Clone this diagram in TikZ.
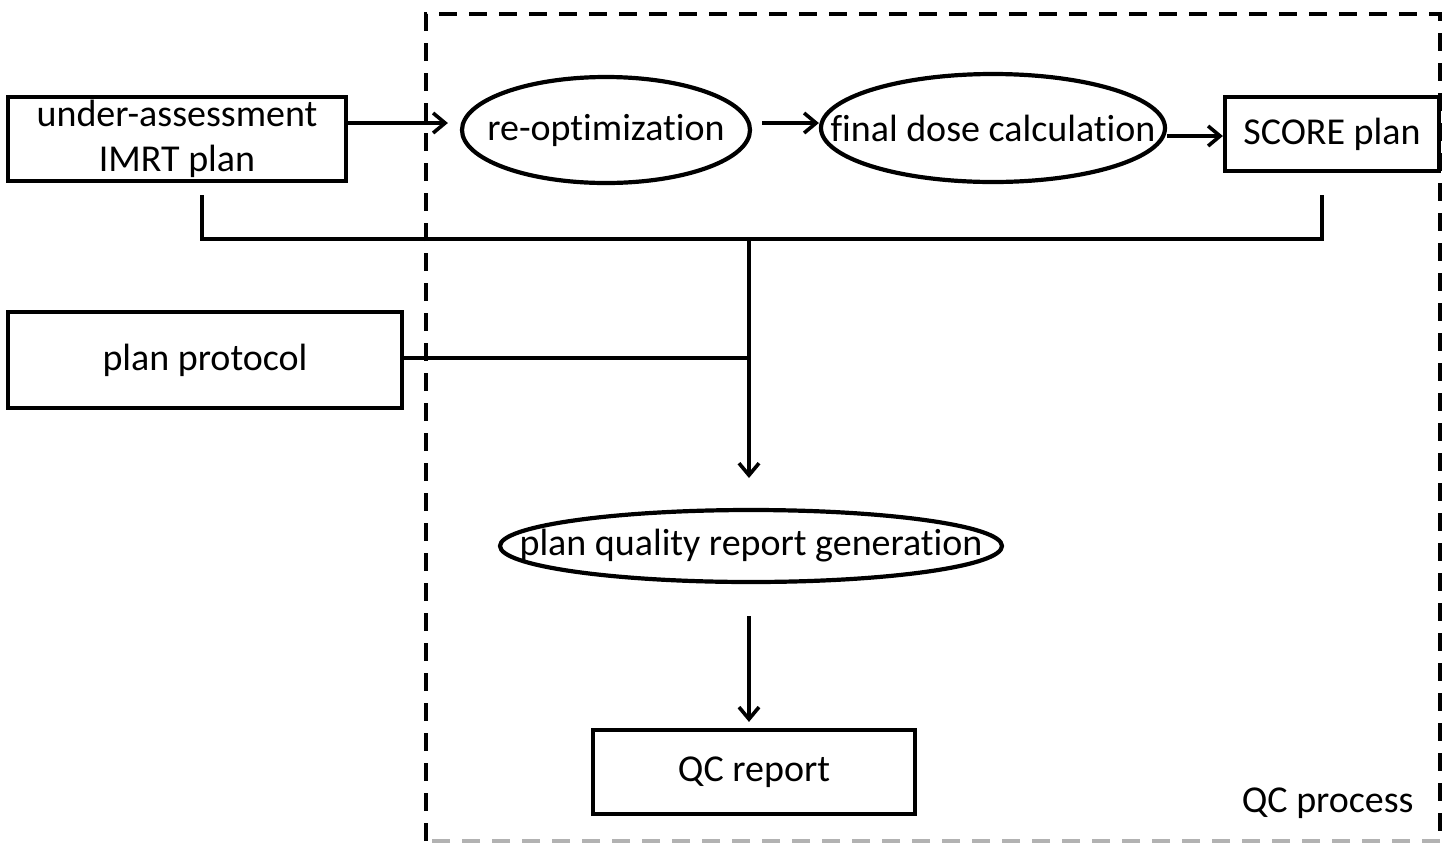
\documentclass[tikz,border=0pt]{standalone}
\usepackage{fontspec}
\setmainfont[Ligatures=NoCommon]{Carlito}
\usetikzlibrary{arrows.meta,shapes.geometric,calc}
\begin{document}
\begin{tikzpicture}[x=0.5pt,y=-0.5pt,
  every node/.style={font=\fontsize{19}{22.5}\selectfont},
  line/.style={line width=2.1pt},
  arr/.style={line width=2.1pt,-{Straight Barb[length=6pt,width=10pt,line width=1.8pt]}},
  boxnode/.style={draw,line width=2.1pt,rectangle,inner sep=0pt,align=center},
  ellnode/.style={draw,line width=2.1pt,ellipse,inner sep=0pt},
  qcframe/.style={line width=2.1pt,dash pattern=on 9pt off 6pt}]
\useasboundingbox (0,0) rectangle (1448,842);
% QC frame
\draw[qcframe,gray!60] (1440,841) -- (426,841);
\draw[qcframe] (426,841) -- (426,14) -- (1440,14) -- (1440,841);
% nodes
\node[boxnode,minimum width=169pt,minimum height=42pt] (under) at (177,139) {under-assessment\\IMRT plan};
\node[ellnode,minimum width=144pt,minimum height=53pt,label={center:re-optimization}] (reopt) at (606,130) {};
\node[ellnode,minimum width=172pt,minimum height=54pt,label={center:final dose calculation}] (final) at (993,128) {};
\node[boxnode,fill=white,minimum width=107pt,minimum height=37pt] (score) at (1332,134) {SCORE plan};
\node[boxnode,minimum width=197pt,minimum height=48pt] (protocol) at (205,360) {plan protocol};
\node[ellnode,minimum width=251pt,minimum height=36pt,label={center:plan quality report generation}] (pqr) at (751,546) {};
\node[boxnode,minimum width=161pt,minimum height=42pt] (qc) at (754,772) {QC report};
\node[anchor=base east,inner sep=0pt] (qcproc) at (1414,812) {QC process};
% coordinates
\coordinate (bus) at (749,239);
\coordinate (ua) at (202,195);
\coordinate (sa) at (1322,195);
% connectors
\draw[arr,shorten >=6pt] (under.east |- 0,123) -- (reopt.west |- 0,123);
\draw[arr,shorten <=5pt] (reopt.east |- 0,123) -- (final.west |- 0,123);
\draw[arr] (final.east |- 0,136) -- (score.west |- 0,136);
\draw[line] (ua) -- (ua |- bus) -- (sa |- bus) -- (sa);
\draw[line] (protocol.east |- 0,358) -- (bus |- 0,358);
\draw[arr] (bus) -- (bus |- 0,478);
\draw[arr,shorten <=16pt,shorten >=3pt] (pqr.south -| bus) -- (qc.north -| bus);
\end{tikzpicture}
\end{document}
